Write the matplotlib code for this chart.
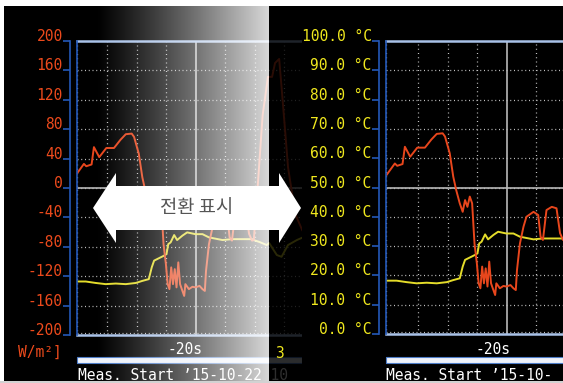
import numpy as np
import matplotlib
matplotlib.use("Agg")
import matplotlib.pyplot as plt
from matplotlib.patches import Rectangle, Polygon

# ---- recorded traces (time in s, value on the 0-100 display scale) ----
time_red = [-40.4, -39.0, -38.6, -37.7, -37.3, -36.4, -35.2, -33.9, -32.8, -31.9,
            -30.9, -30.5, -29.7, -29.1, -28.6, -28.0, -27.5, -27.1, -26.7, -26.3,
            -25.9, -25.5, -25.1, -24.8, -24.5, -24.2, -23.9, -23.6, -23.3, -23.0,
            -22.7, -22.3, -22.0, -21.8, -21.2, -20.6, -20.1, -19.4, -18.9, -18.5,
            -18.3, -17.8, -17.2, -16.7, -15.5, -14.7, -14.3, -13.9, -13.3, -12.4,
            -11.6, -11.0, -10.5, -10.2, -9.5, -8.7, -7.8, -7.1, -6.6, -5.9,
            -5.5, -4.9, -4.4, -3.8, -3.1, -2.0]
temp_red = [54.3, 58.2, 57.4, 58.0, 63.9, 60.5, 63.6, 63.6, 66.4, 68.3,
            68.5, 67.4, 61.7, 53.7, 49.1, 44.6, 41.7, 45.7, 43.4, 46.9,
            44.6, 30.9, 24.1, 17.3, 15.6, 23.0, 17.3, 22.4, 16.2, 24.7,
            17.3, 15.0, 13.3, 17.3, 15.6, 16.4, 16.2, 16.7, 15.6, 15.0,
            21.8, 30.9, 36.6, 40.0, 41.7, 40.6, 33.2, 32.1, 42.3, 43.4,
            42.9, 34.4, 32.1, 32.3, 51.7, 74.8, 87.8, 87.8, 92.5, 93.9,
            84.4, 69.7, 57.1, 49.3, 40.8, 35.7]

time_yel = [-40.4, -38.7, -37.0, -35.3, -33.6, -31.9, -30.2, -29.1, -28.0, -27.5,
            -27.1, -26.3, -25.4, -25.0, -24.7, -24.3, -23.7, -23.2, -22.3, -21.5,
            -20.1, -18.9, -17.8, -15.5, -13.9, -10.5, -10.2, -9.2, -8.0, -7.6,
            -6.3, -5.5, -4.4, -2.9, -2.1]
temp_yel = [18.2, 18.2, 17.7, 17.3, 17.5, 17.3, 17.7, 18.4, 19.0, 23.0,
            25.3, 26.1, 27.0, 27.5, 30.9, 31.5, 34.0, 32.3, 33.8, 34.9,
            34.3, 34.3, 33.2, 32.3, 32.6, 32.6, 32.3, 31.6, 30.6, 31.3,
            27.2, 26.6, 30.6, 32.3, 33.0]

scale_ticks = [0, 10, 20, 30, 40, 50, 60, 70, 80, 90, 100]
irr_labels = ["-200", "-160", "-120", "-80", "-40", "0", "40", "80", "120", "160", "200"]
temp_labels = ["0.0 °C", "10.0 °C", "20.0 °C", "30.0 °C", "40.0 °C", "50.0 °C",
               "60.0 °C", "70.0 °C", "80.0 °C", "90.0 °C", "100.0 °C"]
time_grid = [-35, -30, -25, -15, -10, -5]
cursor_time = -20
cursor_label = "-20s"
irr_unit = "W/m²]"
start_text_left = "Meas. Start \u201915-10-22 10"
start_text_right = "Meas. Start \u201915-10-"
switch_text = "전환 표시"

# ---- styling ----
W, H, DPI = 563, 383, 100
RED = "#e8461c"
RED_LAB = "#ec4a1c"
YEL = "#e4dc2a"
YEL_LAB = "#f0e81e"
BLUE = "#2458b8"
GRID = "#c4c4c4"
SOLID = "#b8b8b8"
MONO = "DejaVu Sans Mono"
FS = 10.5

fig = plt.figure(figsize=(W / DPI, H / DPI), dpi=DPI)
fig.patch.set_facecolor("white")


def fx(px):
    return px / W


def fy(py):
    return 1 - py / H


def box(x0, y0, x1, y1):
    return [fx(x0), fy(y1), fx(x1) - fx(x0), fy(y0) - fy(y1)]


def frect(x0, y0, x1, y1, **kw):
    r = Rectangle((fx(x0), fy(y1)), fx(x1) - fx(x0), fy(y0) - fy(y1),
                  transform=fig.transFigure, **kw)
    fig.add_artist(r)
    return r


def ftext(x, y, s, **kw):
    kw.setdefault("fontfamily", MONO)
    kw.setdefault("fontsize", FS)
    return fig.text(fx(x), fy(y), s, **kw)


# screen background
frect(4, 6, W, 381, facecolor="black", edgecolor="none", zorder=-10)
frect(0, 381, W, H, facecolor="#d2d2d2", edgecolor="none", zorder=-10)


def draw_panel(rect_px, xlim, labels, label_color, zorder):
    ax = fig.add_axes(box(*rect_px), zorder=zorder)
    ax.set_facecolor("black")
    ax.set_xlim(*xlim)
    ax.set_ylim(0, 100)

    for t in time_grid:
        if xlim[0] < t < xlim[1]:
            ax.axvline(t, color=GRID, lw=0.9, dashes=(0.8, 2.6), zorder=1)
    for v in scale_ticks[1:-1]:
        ax.axhline(v, color=GRID, lw=0.9, dashes=(0.8, 2.2), zorder=1)
    ax.axvline(xlim[0], color=GRID, lw=0.9, dashes=(0.8, 2.6), zorder=1,
               clip_on=False)
    ax.axhline(0.6, color=GRID, lw=0.9, dashes=(0.8, 2.2), zorder=1)
    ax.axhline(50, color=SOLID, lw=1.2, zorder=2)
    ax.axvline(cursor_time, color=SOLID, lw=1.2, zorder=2)

    ax.plot(time_yel, temp_yel, color=YEL, lw=1.4, zorder=3)
    ax.plot(time_red, temp_red, color=RED, lw=1.4, zorder=4)

    ax.axvline(xlim[0], color=BLUE, lw=1.2, zorder=5, clip_on=False)
    for side in ("top", "bottom"):
        ax.spines[side].set_color("#a9c2e8")
        ax.spines[side].set_linewidth(1.8)
    ax.spines["right"].set_visible(False)
    ax.spines["left"].set_position(("outward", 5))
    ax.spines["left"].set_color(BLUE)
    ax.spines["left"].set_linewidth(1.2)

    ax.set_xticks([])
    ax.set_yticks(scale_ticks)
    ax.set_yticklabels(labels, fontfamily=MONO, fontsize=FS, color=label_color)
    for lab in ax.get_yticklabels():
        lab.set_verticalalignment("baseline")
    ax.tick_params(axis="y", direction="out", length=5, width=1.2,
                   color=BLUE, pad=0.3, right=False)
    return ax


# ---- left screen (irradiance scale) ----
ax_l = draw_panel((77, 41, 302, 335), (-40.17, -2.03), irr_labels, RED_LAB, 1)
frect(77, 357, 302, 363, facecolor="#eef2fa", edgecolor="#4d7cc6", lw=0.8, zorder=2)
ftext(18, 357, irr_unit, color=RED_LAB, zorder=2)
ftext(202, 354, cursor_label, color="white", ha="right", zorder=2)
ftext(78, 380, start_text_left, color="white", zorder=2)

# fading white overlay across the left screen
ax_fade = fig.add_axes(box(95, 6, 269, 381), zorder=5)
ax_fade.set_axis_off()
ax_fade.patch.set_alpha(0)
n = 300
s = np.linspace(0, 1, n)
grad = np.ones((1, n, 4))
grad[0, :, 3] = 0.85 * s ** 1.15
ax_fade.imshow(grad, aspect="auto", extent=(0, 1, 0, 1), interpolation="bilinear")
ax_fade.set_xlim(0, 1)
ax_fade.set_ylim(0, 1)

# shaded seam between the two screens
frect(269, 6, 302, 381, facecolor="black", edgecolor="none", alpha=0.82, zorder=6)

# ---- right screen (temperature scale) ----
frect(302, 6, W, 381, facecolor="black", edgecolor="none", zorder=7)
ax_r = draw_panel((386, 41, 563, 334), (-40.5, -10.5), temp_labels, YEL_LAB, 8)
frect(386, 357, 566, 363, facecolor="#eef2fa", edgecolor="#4d7cc6", lw=0.8, zorder=9)
ftext(511, 354, cursor_label, color="white", ha="right", zorder=9)
ftext(386, 380, start_text_right, color="white", zorder=9)
ftext(275, 358, "3", color=YEL_LAB, zorder=9)

# ---- double-headed switch arrow ----
arrow_px = [(93, 208), (116, 173), (116, 186), (279, 186), (279, 173),
            (301, 208), (279, 243), (279, 230), (116, 230), (116, 243)]
arrow = Polygon([(fx(x), fy(y)) for x, y in arrow_px], closed=True,
                transform=fig.transFigure, facecolor="white", edgecolor="none",
                zorder=10)
fig.add_artist(arrow)
fig.text(fx(197), fy(207), switch_text, ha="center", va="center",
         fontsize=13.5, color="#555555",
         fontfamily=["Noto Sans CJK KR", "DejaVu Sans"], zorder=11)

fig.savefig("out.png", dpi=DPI, facecolor=fig.get_facecolor())
